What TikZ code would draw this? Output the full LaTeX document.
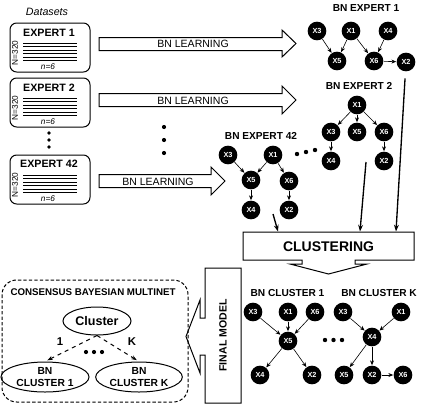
\documentclass[tikz,border=0pt]{standalone}
\usepackage{fontspec}
\setmainfont{Liberation Sans}
\usetikzlibrary{arrows.meta,shapes.geometric}

\tikzset{every picture/.style={line width=0.75pt}}
\tikzset{
  bnnode/.style={circle,fill=black,inner sep=0pt,minimum size=14pt,text=white,font=\bfseries\fontsize{5.5}{6}\selectfont},
  bnedge/.style={-{Stealth[length=3.6pt,width=3pt]},line width=0.45pt},
  databox/.style={draw,rounded corners=5pt,minimum width=60pt,minimum height=36.75pt,inner sep=0pt},
  boxtitle/.style={font=\bfseries\fontsize{8}{9}\selectfont},
  bntitle/.style={font=\bfseries\fontsize{7.6}{9}\selectfont},
  learntext/.style={font=\fontsize{7.9}{9}\selectfont},
  smalltext/.style={font=\fontsize{6.2}{7}\selectfont,inner sep=0pt},
  feedarrow/.style={-{Stealth[length=5pt,width=3.6pt]},line width=1pt},
  ellnode/.style={draw,ellipse,inner sep=0pt,font=\bfseries\fontsize{7.7}{8.5}\selectfont,align=center},
  dasharrow/.style={-{Stealth[length=4pt,width=3pt]},dashed,line width=0.75pt}
}

\begin{document}
\begin{tikzpicture}[x=0.75pt,y=0.75pt,yscale=-1,xscale=1]
    \useasboundingbox (0,0) rectangle (423,407);

    % Text Node
    \node[font=\itshape\fontsize{8}{9}\selectfont] (dsets) at (47,12) {Datasets};

    %Dataset boxes
    \node[databox] (exp1) at (50,47.5) {};
    \node[boxtitle] (exp1t) at (49,32.5) {EXPERT 1};
    \draw[line width=0.6pt] (23,43) -- (77,43) (23,46.5) -- (77,46.5) (23,50) -- (77,50) (23,53.5) -- (77,53.5) (23,57) -- (77,57) (23,60.5) -- (77,60.5);
    \node[smalltext,rotate=90] (exp1n) at (15,53) {N=320};
    \node[smalltext,font=\itshape\fontsize{6.2}{7}\selectfont] (exp1m) at (48,67) {n=6};

    \node[databox] (exp2) at (50,102.5) {};
    \node[boxtitle] (exp2t) at (49,88) {EXPERT 2};
    \draw[line width=0.6pt] (23,98) -- (77,98) (23,101.5) -- (77,101.5) (23,105) -- (77,105) (23,108.5) -- (77,108.5) (23,112) -- (77,112) (23,115.5) -- (77,115.5);
    \node[smalltext,rotate=90] (exp2n) at (15,108) {N=320};
    \node[smalltext,font=\itshape\fontsize{6.2}{7}\selectfont] (exp2m) at (48,122) {n=6};

    \node[databox] (exp42) at (50,179.5) {};
    \node[boxtitle] (exp42t) at (49,164) {EXPERT 42};
    \draw[line width=0.6pt] (23,175) -- (77,175) (23,178.5) -- (77,178.5) (23,182) -- (77,182) (23,185.5) -- (77,185.5) (23,189) -- (77,189) (23,192.5) -- (77,192.5);
    \node[smalltext,rotate=90] (exp42n) at (15,185) {N=320};
    \node[smalltext,font=\itshape\fontsize{6.2}{7}\selectfont] (exp42m) at (48,199) {n=6};

    % vertical dots
    \fill (49,133) circle (1.8) (49,140) circle (1.8) (49,147) circle (1.8);

    %Shape: Right Arrow
    \draw[fill=white] (99,37.5) -- (282,37.5) -- (282,30) -- (296,43.5) -- (282,57) -- (282,50.5) -- (99,50.5) -- cycle;
    \node[learntext] (learn1) at (193,44) {BN LEARNING};
    %Shape: Right Arrow
    \draw[fill=white] (99,93.5) -- (282,93.5) -- (282,86) -- (296,100) -- (282,114) -- (282,106.5) -- (99,106.5) -- cycle;
    \node[learntext] (learn2) at (193,100.5) {BN LEARNING};
    %Shape: Right Arrow
    \draw[fill=white] (99,174.5) -- (211,174.5) -- (211,167) -- (225,181) -- (211,195) -- (211,187.5) -- (99,187.5) -- cycle;
    \node[learntext] (learn42) at (158,181.5) {BN LEARNING};

    \fill (164,127) circle (2.1) (164,140) circle (2.1) (164,153) circle (2.1);

    % BN EXPERT 1
    \node[bntitle] (bne1) at (366,8) {BN EXPERT 1};
    \node[bnnode] (e1x3) at (317,31) {X3};
    \node[bnnode] (e1x1) at (351,31) {X1};
    \node[bnnode] (e1x4) at (388,31) {X4};
    \node[bnnode] (e1x5) at (337,61) {X5};
    \node[bnnode] (e1x6) at (374,61) {X6};
    \node[bnnode] (e1x2) at (406,62) {X2};
    \draw[bnedge] (e1x3) -- (e1x5);
    \draw[bnedge] (e1x1) -- (e1x5);
    \draw[bnedge] (e1x1) -- (e1x6);
    \draw[bnedge] (e1x4) -- (e1x6);
    \draw[bnedge] (e1x6) -- (e1x2);

    % BN EXPERT 2
    \node[bntitle] (bne2) at (359,86) {BN EXPERT 2};
    \node[bnnode] (e2x1) at (357,105) {X1};
    \node[bnnode] (e2x3) at (331,132) {X3};
    \node[bnnode] (e2x5) at (357,132) {X5};
    \node[bnnode] (e2x6) at (384,132) {X6};
    \node[bnnode] (e2x4) at (331,161) {X4};
    \node[bnnode] (e2x2) at (384,161) {X2};
    \draw[bnedge] (e2x1) -- (e2x3);
    \draw[bnedge] (e2x1) -- (e2x5);
    \draw[bnedge] (e2x1) -- (e2x6);
    \draw[bnedge] (e2x3) -- (e2x4);
    \draw[bnedge] (e2x6) -- (e2x2);

    % BN EXPERT 42
    \node[bntitle] (bne42) at (261,136) {BN EXPERT 42};
    \node[bnnode] (e42x3) at (228,155) {X3};
    \node[bnnode] (e42x1) at (273,155) {X1};
    \node[bnnode] (e42x5) at (251,180) {X5};
    \node[bnnode] (e42x6) at (289,181) {X6};
    \node[bnnode] (e42x4) at (251,210) {X4};
    \node[bnnode] (e42x2) at (289,210) {X2};
    \draw[bnedge] (e42x3) -- (e42x5);
    \draw[bnedge] (e42x1) -- (e42x5);
    \draw[bnedge] (e42x1) -- (e42x6);
    \draw[bnedge] (e42x5) -- (e42x4);
    \draw[bnedge] (e42x6) -- (e42x2);

    \fill (297,154) circle (2.2) (306,152) circle (2.2) (315,150) circle (2.2);

    %Shape: Down Arrow (clustering)
    \draw (243,232) -- (414,232) -- (414,260) -- (355,260) -- (355,264) -- (367,264) -- (328.5,274) -- (290,264) -- (302,264) -- (302,260) -- (243,260) -- cycle;
    \node[font=\bfseries\fontsize{10.5}{12}\selectfont] (clus) at (328.5,246.5) {CLUSTERING};

    \coordinate (s42) at (273,214);
    \coordinate (t42) at (278,231.5);
    \coordinate (s2) at (366,162);
    \coordinate (t2) at (360,231.5);
    \coordinate (t1) at (396,231.5);
    \draw[feedarrow] (s42) -- (t42);
    \draw[feedarrow] (s2) -- (t2);
    \draw[feedarrow,shorten <=5pt] (e1x2) -- (t1);

    % BN CLUSTER 1
    \node[bntitle] (bnc1t) at (287.5,293) {BN CLUSTER 1};
    \node[bnnode] (c1x3) at (253,312) {X3};
    \node[bnnode] (c1x1) at (288,312) {X1};
    \node[bnnode] (c1x6) at (315,312) {X6};
    \node[bnnode] (c1x5) at (288,341) {X5};
    \node[bnnode] (c1x4) at (260,375) {X4};
    \node[bnnode] (c1x2) at (312,375) {X2};
    \draw[bnedge] (c1x3) -- (c1x5);
    \draw[bnedge] (c1x1) -- (c1x5);
    \draw[bnedge] (c1x6) -- (c1x5);
    \draw[bnedge] (c1x5) -- (c1x4);
    \draw[bnedge] (c1x5) -- (c1x2);

    \fill (325,340) circle (2.2) (333.5,340) circle (2.2) (342,340) circle (2.2);

    % BN CLUSTER K
    \node[bntitle] (bnckt) at (379,293) {BN CLUSTER K};
    \node[bnnode] (ckx3) at (343,312) {X3};
    \node[bnnode] (ckx1) at (401,312) {X1};
    \node[bnnode] (ckx4) at (372,337) {X4};
    \node[bnnode] (ckx5) at (344,375) {X5};
    \node[bnnode] (ckx2) at (372,375) {X2};
    \node[bnnode] (ckx6) at (403,375) {X6};
    \draw[bnedge] (ckx3) -- (ckx4);
    \draw[bnedge] (ckx1) -- (ckx4);
    \draw[bnedge] (ckx4) -- (ckx5);
    \draw[bnedge] (ckx4) -- (ckx2);
    \draw[bnedge] (ckx2) -- (ckx6);

    %Shape: Left Arrow (final model)
    \draw (205,268) -- (241,268) -- (241,403) -- (205,403) -- (205,355) -- (200,355) -- (200,373) -- (186,336.5) -- (200,300) -- (200,318) -- (205,318) -- cycle;
    \node[font=\bfseries\fontsize{7.9}{9}\selectfont,rotate=90] (final) at (223,335.5) {FINAL MODEL};

    % Consensus Bayesian multinet
    \draw[dashed,dash pattern=on 2.5pt off 1.6pt,rounded corners=11pt] (2,280) rectangle (188,402);
    \node[font=\bfseries\fontsize{7.3}{8}\selectfont] (cbm) at (93,292) {CONSENSUS BAYESIAN MULTINET};
    \node[ellnode,minimum width=51pt,minimum height=21pt,font=\bfseries\fontsize{9.4}{10}\selectfont] (clvar) at (97,321) {Cluster};
    \node[ellnode,minimum width=66pt,minimum height=22.5pt] (bnc1) at (45,377) {BN\\CLUSTER 1};
    \node[ellnode,minimum width=65pt,minimum height=22.5pt] (bnck) at (139,377) {BN\\CLUSTER K};
    \draw[dasharrow,shorten >=2pt] (clvar.south) -- (bnc1.north);
    \draw[dasharrow,shorten >=2pt] (clvar.south) -- (bnck.north);
    \node[font=\bfseries\fontsize{8.5}{9}\selectfont] (lab1) at (60,342) {1};
    \node[font=\bfseries\fontsize{8.5}{9}\selectfont] (labk) at (132,342) {K};
    \fill (86,352) circle (2.1) (94,352) circle (2.1) (102,352) circle (2.1);
\end{tikzpicture}
\end{document}
